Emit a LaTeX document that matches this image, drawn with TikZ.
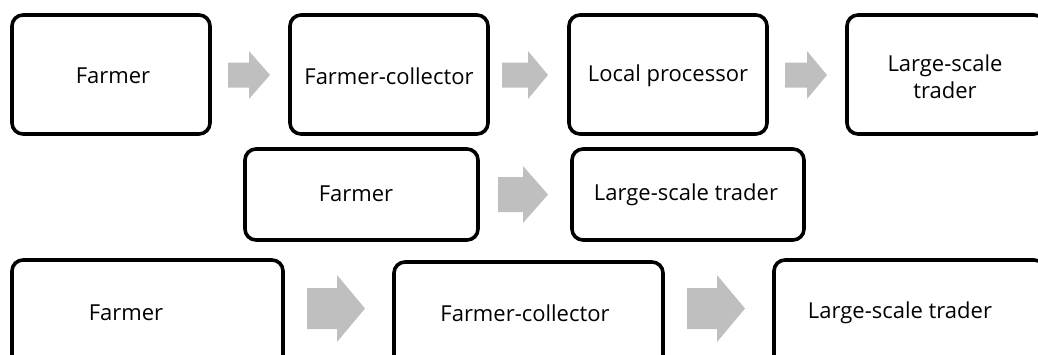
\documentclass[tikz,border=0pt]{standalone}
\usepackage{fontspec}
\setmainfont{Open Sans}
\begin{document}
\begin{tikzpicture}[x=1pt,y=-1pt,
  stage/.style={draw=black, line width=3.6pt, rounded corners=11pt,
    fill=white, inner sep=0pt, align=center},
  caption/.style={inner sep=0pt, align=center, font=\fontsize{22}{27}\selectfont},
  flowfill/.style={fill=black!25}]
\useasboundingbox (0,0) rectangle (1038,354);

% grey block arrow: tail x, head base x, tip x, centre y, half shaft, half head
\newcommand\blockarr[6]{%
  \fill[flowfill] (#1,#4-#5) -- (#2,#4-#5) -- (#2,#4-#6) -- (#3,#4)
    -- (#2,#4+#6) -- (#2,#4+#5) -- (#1,#4+#5) -- cycle;}

% first chain
\node[stage, minimum width=198pt, minimum height=119pt] (a1) at (111,74.5) {};
\node[stage, minimum width=198pt, minimum height=119pt] (a2) at (389,74.5) {};
\node[stage, minimum width=198pt, minimum height=119pt] (a3) at (668,74.5) {};
\node[stage, minimum width=198pt, minimum height=119pt] (a4) at (946,74.5) {};
\node[caption] (ta1) at (113,76) {Farmer};
\node[caption] (ta2) at (389,76) {Farmer-collector};
\node[caption] (ta3) at (668,76) {Local processor};
\node[caption] (ta4) at (945,77) {Large-scale\\trader};
\blockarr{228}{249}{270}{75}{12.5}{24}
\blockarr{502}{528}{548}{75}{12.5}{24}
\blockarr{785}{807}{827}{75}{12.5}{24}

% second chain
\node[stage, minimum width=233pt, minimum height=91pt] (b1) at (361.5,194.5) {};
\node[stage, minimum width=232pt, minimum height=91pt] (b2) at (688,194.5) {};
\node[caption] (tb1) at (356,194) {Farmer};
\node[caption] (tb2) at (686,195) {Large-scale trader};
\blockarr{498}{523}{548}{194.5}{17.5}{28.5}

% third chain
\node[stage, minimum width=271pt, minimum height=106pt] (c1) at (147.5,313) {};
\node[stage, minimum width=269pt, minimum height=106pt] (c2) at (528.5,315) {};
\node[stage, minimum width=271pt, minimum height=106pt] (c3) at (909.5,313) {};
\node[caption] (tc1) at (126,313) {Farmer};
\node[caption] (tc2) at (525,313) {Farmer-collector};
\node[caption] (tc3) at (900,313) {Large-scale trader};
\blockarr{307}{337}{365}{308.5}{20.5}{33.5}
\blockarr{687}{717}{745}{308.5}{20.5}{33.5}
\end{tikzpicture}
\end{document}
